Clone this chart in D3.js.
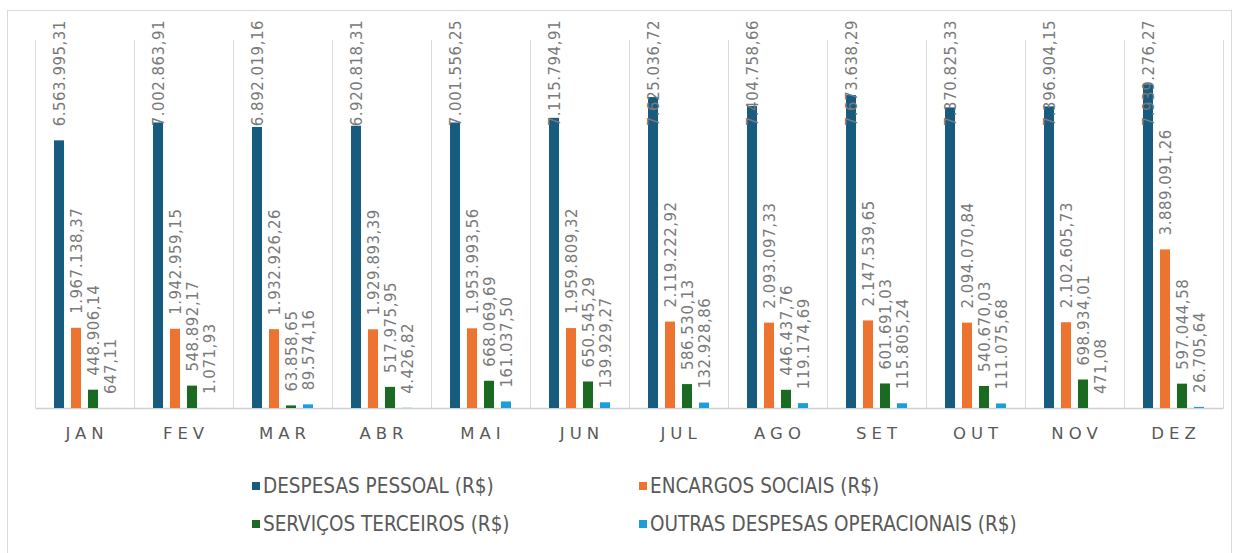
<!DOCTYPE html>
<html lang="pt">
<head>
<meta charset="UTF-8">
<title>Despesas mensais</title>
<script src="https://d3js.org/d3.v7.min.js"></script>
<style>
    body { margin: 0; background: #fff; }
    .value { font-family: 'DejaVu Sans', sans-serif; font-size: 15px; fill: #7a7a7a; letter-spacing: 0.5px; }
    .month { font-family: 'DejaVu Sans', sans-serif; font-size: 16.5px; fill: #595959; letter-spacing: 5px; }
    .legend text { font-family: 'Liberation Sans Narrow', 'DejaVu Sans Condensed', sans-serif; font-size: 20.5px; fill: #595959; }
</style>
</head>
<body>
<script>
// dados
var months = ["JAN", "FEV", "MAR", "ABR", "MAI", "JUN", "JUL", "AGO", "SET", "OUT", "NOV", "DEZ"];
var seriesNames = ["DESPESAS PESSOAL (R$)", "ENCARGOS SOCIAIS (R$)", "SERVIÇOS TERCEIROS (R$)", "OUTRAS DESPESAS OPERACIONAIS (R$)"];
var despesasPessoal = [6563995.31, 7002863.91, 6892019.16, 6920818.31, 7001556.25, 7115794.91, 7625036.72, 7404758.66, 7673638.29, 7370825.33, 7396904.15, 7939276.27];
var encargosSociais = [1967138.37, 1942959.15, 1932926.26, 1929893.39, 1953993.56, 1959809.32, 2119222.92, 2093097.33, 2147539.65, 2094070.84, 2102605.73, 3889091.26];
var servicosTerceiros = [448906.14, 548892.17, 63858.65, 517975.95, 668069.69, 650545.29, 586530.13, 446437.76, 601691.03, 540670.03, 698934.01, 597044.58];
var outrasDespesas = [647.11, 1071.93, 89574.16, 4426.82, 161037.50, 139929.27, 132928.86, 119174.69, 115805.24, 111075.68, 471.08, 26705.64];
var colors = ["#175b7f", "#ec7330", "#1b6a22", "#1a9fd9"];

var W = 1239, H = 553;
var series = [despesasPessoal, encargosSociais, servicosTerceiros, outrasDespesas];

var br = d3.formatLocale({ decimal: ",", thousands: ".", grouping: [3], currency: ["R$", ""] });
var fmt = br.format(",.2f");

var svg = d3.select("body").append("svg")
    .attr("width", W)
    .attr("height", H);

// borda do grafico
svg.append("rect")
    .attr("x", 7.5).attr("y", 10.5)
    .attr("width", 1224).attr("height", 560)
    .attr("fill", "none").attr("stroke", "#d9d9d9");

var x0 = d3.scaleBand().domain(months).range([35, 1223]);
var x1 = d3.scaleBand().domain(d3.range(4)).range([0, 61]).paddingInner(0.41);
var y = d3.scaleLinear().domain([0, 9000000]).range([408, 41]);
var groupOff = (x0.bandwidth() - 61) / 2;

// separadores das categorias
svg.append("g")
    .selectAll("line")
    .data(months.concat(["end"]))
    .enter().append("line")
    .attr("x1", function(d, i) { return Math.round(35 + i * x0.step()) + 0.5; })
    .attr("x2", function(d, i) { return Math.round(35 + i * x0.step()) + 0.5; })
    .attr("y1", y.range()[1] - 1)
    .attr("y2", y(0))
    .attr("stroke", "#d9d9d9");

// eixo
var xAxis = svg.append("g")
    .attr("transform", "translate(0," + y(0) + ")")
    .call(d3.axisBottom(x0).tickSize(0).tickPadding(19));
xAxis.select(".domain").attr("stroke", "#d0d0d0").attr("stroke-width", 1.5);
xAxis.selectAll("text")
    .attr("class", "month")
    .attr("font-family", null).attr("font-size", null)
    .attr("dx", 2.5);

var groups = svg.append("g")
    .selectAll("g")
    .data(months)
    .enter().append("g")
    .attr("transform", function(d) { return "translate(" + (x0(d) + groupOff) + ",0)"; });

groups.selectAll("rect")
    .data(function(d, i) { return series.map(function(s, k) { return { k: k, v: s[i] }; }); })
    .enter().append("rect")
    .attr("x", function(d) { return x1(d.k); })
    .attr("width", x1.bandwidth())
    .attr("y", function(d) { return y(d.v); })
    .attr("height", function(d) { return y(0) - y(d.v); })
    .attr("fill", function(d) { return colors[d.k]; });

// rotulos de valor, empurrados para dentro quando passam do topo
groups.selectAll("text")
    .data(function(d, i) { return series.map(function(s, k) { return { k: k, v: s[i] }; }); })
    .enter().append("text")
    .attr("class", "value")
    .text(function(d) { return fmt(d.v); })
    .each(function(d) {
        var len = this.getComputedTextLength();
        var ly = Math.max(y(d.v) - 14, 20 + len);
        var lx = x1(d.k) + x1.bandwidth() / 2 + 1;
        d3.select(this)
            .attr("dy", "0.35em")
            .attr("transform", "translate(" + lx + "," + ly + ") rotate(-90)");
    });

// legenda
var legendPos = [[252, 486], [639, 486], [252, 524], [639, 524]];
var legend = svg.append("g").attr("class", "legend")
    .selectAll("g")
    .data(seriesNames)
    .enter().append("g")
    .attr("transform", function(d, i) { return "translate(" + legendPos[i][0] + "," + legendPos[i][1] + ")"; });

legend.append("rect")
    .attr("x", 0).attr("y", -4)
    .attr("width", 8).attr("height", 8)
    .attr("fill", function(d, i) { return colors[i]; });

legend.append("text")
    .attr("x", 11)
    .attr("dy", "0.35em")
    .text(function(d) { return d; });
</script>
</body>
</html>
